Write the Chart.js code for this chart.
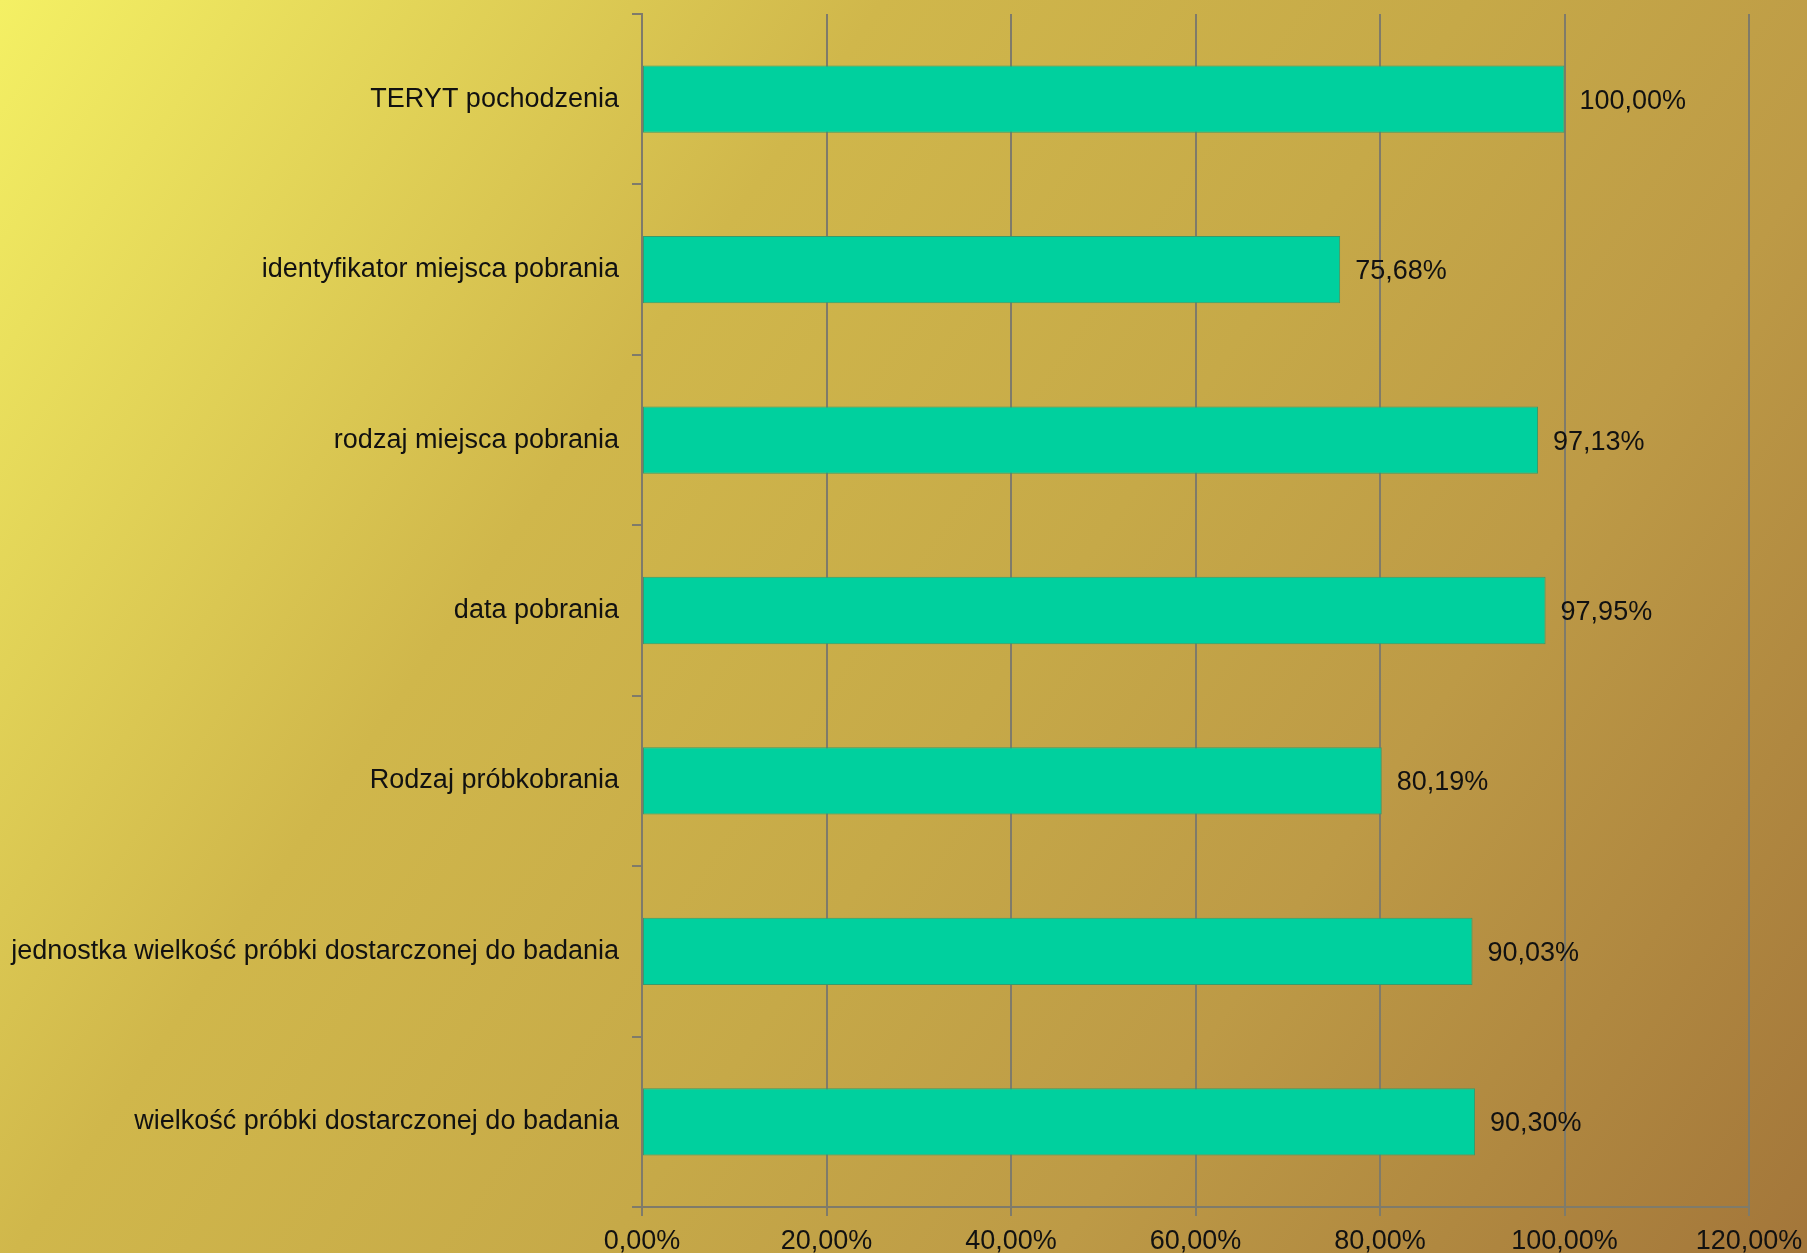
<!DOCTYPE html>
<html>
<head>
<meta charset="utf-8">
<script src="https://cdn.jsdelivr.net/npm/chart.js"></script>
<style>
    html, body { margin: 0; padding: 0; overflow: hidden; }
    #wrap { width: 1807px; height: 1253px; }
</style>
</head>
<body>
<div id="wrap"><canvas id="completeness"></canvas></div>
<script>
// dane (procent wypelnienia pola)
const fieldNames = [
    'TERYT pochodzenia',
    'identyfikator miejsca pobrania',
    'rodzaj miejsca pobrania',
    'data pobrania',
    'Rodzaj próbkobrania',
    'jednostka wielkość próbki dostarczonej do badania',
    'wielkość próbki dostarczonej do badania'
];
const fieldPercents = [100.00, 75.68, 97.13, 97.95, 80.19, 90.03, 90.30];
const axisTicks = [0, 20, 40, 60, 80, 100, 120];

const labelFont = { family: '"Liberation Sans", Arial, sans-serif', size: 27 };

function formatPercent(v) {
    return v.toFixed(2).replace('.', ',') + '%';
}

// tlo z gradientem jak w oryginale
const backgroundPlugin = {
    id: 'backgroundPlugin',
    beforeDraw(chart) {
        const ctx = chart.ctx;
        const w = chart.width;
        const h = chart.height;
        const grad = ctx.createLinearGradient(0, 0, w, h);
        grad.addColorStop(0, '#f4f064');
        grad.addColorStop(0.33, '#d0b74b');
        grad.addColorStop(0.55, '#c6a948');
        grad.addColorStop(0.72, '#bd9a46');
        grad.addColorStop(1, '#a3763a');
        ctx.save();
        ctx.fillStyle = grad;
        ctx.fillRect(0, 0, w, h);
        ctx.restore();
    }
};

// etykiety wartosci za koncem slupka
const valueLabels = {
    id: 'valueLabels',
    afterDatasetsDraw(chart) {
        const ctx = chart.ctx;
        const meta = chart.getDatasetMeta(0);
        ctx.save();
        ctx.font = labelFont.size + 'px ' + labelFont.family;
        ctx.fillStyle = '#111111';
        ctx.textAlign = 'left';
        ctx.textBaseline = 'middle';
        meta.data.forEach((bar, i) => {
            ctx.fillText(formatPercent(fieldPercents[i]), bar.x + 15, bar.y + 2);
        });
        ctx.restore();
    }
};

const ctx = document.getElementById('completeness');

new Chart(ctx, {
    type: 'bar',
    data: {
        labels: fieldNames,
        datasets: [{
            data: fieldPercents,
            backgroundColor: '#00d09e',
            borderColor: '#3a9a6a',
            borderWidth: 1,
            borderSkipped: false,
            categoryPercentage: 1,
            barPercentage: 0.395
        }]
    },
    options: {
        indexAxis: 'y',
        responsive: true,
        maintainAspectRatio: false,
        animation: false,
        layout: {
            padding: { top: 14, right: 58, left: 0, bottom: 0 }
        },
        plugins: {
            legend: { display: false },
            tooltip: { enabled: false }
        },
        scales: {
            x: {
                min: 0,
                max: 120,
                afterBuildTicks(axis) {
                    axis.ticks = axisTicks.map(v => ({ value: v }));
                },
                afterFit(axis) {
                    axis.height = 46;
                    axis.paddingLeft = 0;
                    axis.paddingRight = 0;
                },
                grid: {
                    color: '#7f7b6a',
                    lineWidth: 2,
                    tickLength: 9,
                    drawTicks: true
                },
                border: { display: true, color: '#7f7b6a', width: 2 },
                ticks: {
                    font: labelFont,
                    color: '#111111',
                    padding: 9,
                    maxRotation: 0,
                    callback: v => formatPercent(v)
                }
            },
            y: {
                afterFit(axis) {
                    axis.width = 642;
                    axis.paddingTop = 0;
                    axis.paddingBottom = 0;
                },
                grid: {
                    offset: true,
                    drawOnChartArea: false,
                    drawTicks: true,
                    tickLength: 10,
                    color: '#7f7b6a',
                    lineWidth: 2
                },
                border: { display: true, color: '#7f7b6a', width: 2 },
                ticks: {
                    font: labelFont,
                    color: '#111111',
                    padding: 13,
                    autoSkip: false
                }
            }
        }
    },
    plugins: [backgroundPlugin, valueLabels]
});
</script>
</body>
</html>
